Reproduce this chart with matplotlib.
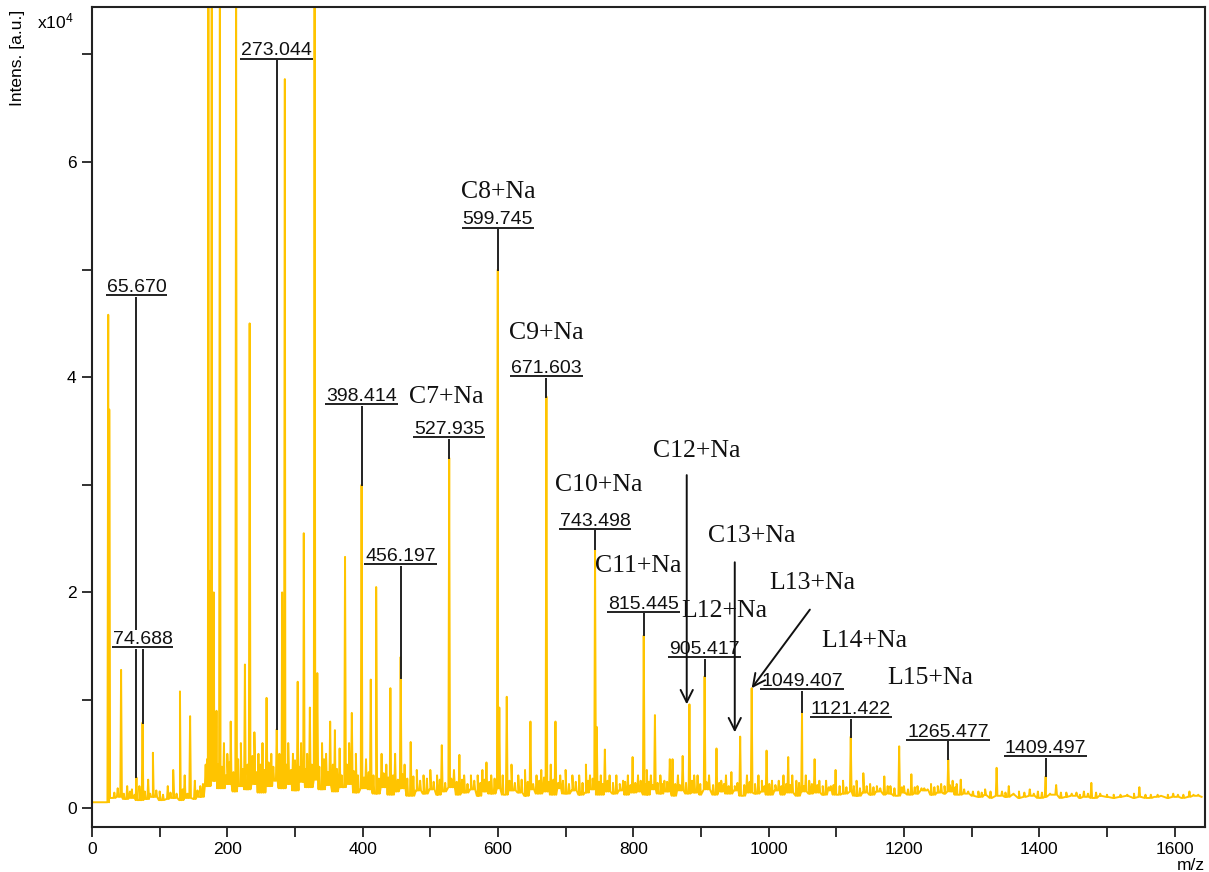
import numpy as np
import matplotlib
matplotlib.use("Agg")
import matplotlib.pyplot as plt
from matplotlib.ticker import MultipleLocator

plt.rcParams['font.family'] = ['Liberation Sans', 'DejaVu Sans']
plt.rcParams['mathtext.default'] = 'regular'

# ---------------- data (intensity in units of 1e4 a.u.) ----------------
baseline_mz = np.arange(0, 1650, 10)
baseline_int = [
    0.05, 0.05, 0.05,
    0.09, 0.10, 0.08, 0.09, 0.07, 0.08, 0.10, 0.07, 0.08, 0.09, 0.07, 0.09, 0.08, 0.10,
    0.20, 0.25, 0.18, 0.22, 0.15, 0.20, 0.17, 0.22, 0.14, 0.20, 0.25, 0.18, 0.22, 0.16,
    0.24, 0.19, 0.26, 0.17, 0.21, 0.15, 0.19, 0.22, 0.14, 0.18,
    0.17, 0.13, 0.19, 0.12, 0.15, 0.18, 0.11, 0.16, 0.13, 0.17, 0.12, 0.15, 0.19, 0.12,
    0.14, 0.17, 0.11, 0.15, 0.13, 0.18, 0.12, 0.16, 0.14, 0.11, 0.17, 0.13, 0.15, 0.12,
    0.18, 0.13, 0.16, 0.12, 0.14, 0.17, 0.12, 0.15, 0.13, 0.16, 0.12, 0.14,
    0.15, 0.12, 0.17, 0.13, 0.15, 0.11, 0.16, 0.13, 0.14, 0.12, 0.17, 0.12, 0.15, 0.13,
    0.16, 0.11, 0.14, 0.13, 0.15, 0.12, 0.16, 0.12, 0.14, 0.11, 0.15, 0.13, 0.14, 0.12,
    0.16, 0.12, 0.13, 0.15, 0.11, 0.14, 0.12, 0.15, 0.12, 0.13, 0.11, 0.14, 0.12, 0.13,
    0.16, 0.12, 0.14, 0.13, 0.15, 0.12, 0.13, 0.11,
    0.10, 0.12, 0.09, 0.11, 0.10, 0.12, 0.09, 0.10, 0.11, 0.09, 0.10, 0.12, 0.09, 0.10,
    0.11, 0.09, 0.10, 0.09, 0.11, 0.10, 0.09, 0.10, 0.11, 0.09, 0.10, 0.09, 0.10, 0.11,
    0.09, 0.10, 0.09, 0.10, 0.11, 0.10,
]

peak_mz = [
    24, 25.5, 43, 52, 59, 65.670, 70, 74.688, 83, 90, 100, 112, 120, 130, 137, 145,
    152, 160, 168, 172, 174, 177, 180, 184, 189, 195, 200, 205, 213, 220, 226, 233,
    240, 246, 252, 258, 265, 273.044, 277, 281, 285, 290, 297, 304, 309, 313, 318,
    322, 329, 333, 340, 346, 352, 359, 366, 374, 380, 384, 390, 398.414, 405, 412,
    420, 428, 435, 441, 448, 456.197, 462, 471, 480, 490, 500, 510, 517, 527.935,
    535, 543, 550, 560, 570, 577, 583, 590, 599.745, 602, 613, 620, 630, 640, 648,
    657, 664, 671.603, 678, 685, 692, 700, 710, 720, 730, 736, 743.498, 746, 752,
    758, 765, 775, 785, 792, 799, 807, 815.445, 820, 826, 832, 840, 846, 854, 858,
    866, 873, 883, 890, 895, 905.417, 912, 923, 930, 937, 945, 950, 958, 968, 975,
    985, 990, 997, 1005, 1015, 1022, 1029, 1035, 1041, 1049.407, 1055, 1060, 1068,
    1075, 1085, 1092, 1099, 1110, 1121.422, 1130, 1140, 1150, 1160, 1171, 1180,
    1193, 1200, 1211, 1220, 1230, 1240, 1250, 1255, 1265.477, 1272, 1278, 1284,
    1295, 1310, 1320, 1337, 1345, 1355, 1370, 1386, 1398, 1409.497, 1425, 1440,
    1455, 1466, 1477, 1490, 1510, 1530, 1548, 1565, 1590, 1605, 1622, 1635,
]
peak_int = [
    4.58, 3.70, 1.28, 0.20, 0.17, 0.28, 0.20, 0.79, 0.26, 0.51, 0.15, 0.20, 0.35, 1.08, 0.30, 0.85,
    0.25, 0.20, 0.40, 7.60, 2.20, 7.60, 2.00, 0.90, 7.60, 0.60, 0.50, 0.80, 7.60, 0.60, 1.33, 4.50,
    0.70, 0.50, 0.60, 1.02, 0.50, 0.73, 0.50, 2.00, 6.77, 0.60, 0.50, 1.17, 0.60, 2.55, 0.50,
    0.93, 7.60, 1.25, 0.60, 0.50, 0.80, 0.72, 0.55, 2.33, 0.60, 0.88, 0.50, 3.00, 0.45, 1.19,
    2.05, 0.50, 0.40, 1.11, 0.50, 1.40, 0.40, 0.61, 0.35, 0.30, 0.35, 0.30, 0.58, 3.25,
    0.35, 0.49, 0.30, 0.30, 0.30, 0.35, 0.42, 0.30, 5.00, 0.93, 1.03, 0.40, 0.30, 0.35, 0.80,
    0.30, 0.35, 3.82, 0.40, 0.80, 0.30, 0.35, 0.30, 0.30, 0.40, 0.30, 2.40, 0.75, 0.30,
    0.54, 0.30, 0.30, 0.25, 0.30, 0.47, 0.30, 1.60, 0.35, 0.30, 0.86, 0.30, 0.25, 0.45, 0.45,
    0.30, 0.48, 0.96, 0.30, 0.30, 1.22, 0.30, 0.55, 0.25, 0.30, 0.33, 0.20, 0.66, 0.30, 1.11,
    0.30, 0.25, 0.53, 0.25, 0.25, 0.30, 0.47, 0.30, 0.25, 0.89, 0.30, 0.25, 0.45,
    0.25, 0.25, 0.20, 0.35, 0.25, 0.66, 0.25, 0.32, 0.22, 0.20, 0.29, 0.20,
    0.57, 0.20, 0.31, 0.20, 0.18, 0.22, 0.20, 0.22, 0.45, 0.25, 0.22, 0.26,
    0.15, 0.15, 0.17, 0.37, 0.15, 0.20, 0.15, 0.17, 0.15, 0.29, 0.21, 0.14,
    0.14, 0.15, 0.23, 0.13, 0.12, 0.12, 0.19, 0.12, 0.12, 0.12, 0.15, 0.12,
]

# small "grass" peaks between the main ones
minor_mz = [
    33, 38, 47, 56, 63, 78, 86, 95, 105, 116, 125, 134, 141, 156, 164,
    170, 176, 182, 186, 192, 198, 203, 209, 216, 223, 230, 237, 243, 249, 255, 261,
    268, 279, 287, 294, 300, 306, 311, 316, 325, 336, 343, 349, 356, 362, 369, 377,
    387, 393, 402, 409, 416, 424, 431, 438, 445, 452, 459, 466, 475, 485, 495, 505,
    514, 522, 531, 539, 547, 555, 565, 574, 580, 587, 595, 607, 617, 625, 635, 644,
    652, 661, 668, 675, 682, 689, 696, 705, 715, 725, 733, 740, 749, 755, 762, 770,
    780, 788, 796, 803, 811, 818, 823, 829, 836, 843, 850, 862, 869, 878, 887, 899,
    908, 918, 927, 934, 941, 954, 964, 972, 980, 994, 1001, 1010, 1019, 1026, 1032,
    1045, 1052, 1064, 1072, 1080, 1089, 1096, 1105, 1115, 1126, 1135, 1145, 1155,
    1165, 1176, 1186, 1197, 1206, 1216, 1226, 1235, 1245, 1260, 1268, 1276, 1289,
    1302, 1315, 1328, 1350, 1362, 1378, 1392, 1404, 1416, 1432, 1448, 1460, 1472,
    1484, 1500, 1520, 1540, 1557, 1575, 1598, 1613, 1628,
]
minor_int = [
    0.14, 0.18, 0.13, 0.15, 0.12, 0.15, 0.13, 0.16, 0.12, 0.14, 0.13, 0.17, 0.13, 0.16, 0.22,
    0.45, 0.35, 0.50, 0.40, 0.38, 0.30, 0.42, 0.33, 0.45, 0.36, 0.40, 0.48, 0.33, 0.40, 0.35, 0.42,
    0.38, 0.45, 0.40, 0.35, 0.44, 0.38, 0.42, 0.36, 0.40, 0.38, 0.45, 0.33, 0.40, 0.36, 0.30, 0.40,
    0.34, 0.30, 0.28, 0.33, 0.30, 0.27, 0.32, 0.28, 0.30, 0.26, 0.31, 0.27, 0.29, 0.25, 0.27, 0.24,
    0.26, 0.23, 0.27, 0.24, 0.26, 0.22, 0.25, 0.23, 0.26, 0.24, 0.27, 0.30, 0.25, 0.23, 0.26, 0.24,
    0.22, 0.25, 0.28, 0.24, 0.26, 0.23, 0.25, 0.22, 0.24, 0.23, 0.25, 0.27, 0.24, 0.22, 0.25, 0.23,
    0.22, 0.24, 0.21, 0.23, 0.25, 0.22, 0.24, 0.21, 0.23, 0.22, 0.24, 0.22, 0.21, 0.23, 0.25, 0.22,
    0.24, 0.21, 0.23, 0.22, 0.20, 0.23, 0.21, 0.24, 0.22, 0.20, 0.22, 0.21, 0.20, 0.22, 0.21,
    0.23, 0.20, 0.22, 0.21, 0.20, 0.19, 0.21, 0.20, 0.19, 0.20, 0.18, 0.20, 0.19,
    0.18, 0.20, 0.18, 0.19, 0.17, 0.19, 0.18, 0.17, 0.19, 0.20, 0.21, 0.19, 0.17,
    0.15, 0.14, 0.15, 0.14, 0.13, 0.14, 0.13, 0.14, 0.13, 0.14, 0.13, 0.12, 0.13,
    0.14, 0.12, 0.12, 0.13, 0.12, 0.12, 0.13, 0.12, 0.12,
]

# labelled peaks: m/z text and stem end (peak top)
label_mz = [65.670, 74.688, 273.044, 398.414, 456.197, 527.935, 599.745, 671.603,
            743.498, 815.445, 905.417, 1049.407, 1121.422, 1265.477, 1409.497]
label_top = [0.28, 0.79, 0.73, 3.00, 1.20, 3.25, 5.00, 3.82,
             2.40, 1.60, 1.22, 0.89, 0.66, 0.45, 0.29]

# assignment annotations
assign_text = ["C7+Na", "C8+Na", "C9+Na", "C10+Na", "C11+Na", "C12+Na",
               "L12+Na", "C13+Na", "L13+Na", "L14+Na", "L15+Na"]

# ---------------- layout (positions, not data) ----------------
label_bar_y = [4.76, 1.49, 6.96, 3.75, 2.26, 3.44, 5.39, 4.01,
               2.59, 1.82, 1.40, 1.10, 0.84, 0.63, 0.48]
assign_pos = [(468, 3.82), (545, 5.72), (617, 4.41), (685, 3.00), (743, 2.25),
              (829, 3.31), (871, 1.83), (910, 2.52), (1001, 2.09), (1078, 1.55),
              (1176, 1.20)]
arrows = [((879, 3.09), (879, 0.96)),
          ((950, 2.28), (950, 0.70)),
          ((1061, 1.84), (975, 1.11))]

# ---------------- build spectrum trace ----------------
bm = np.asarray(baseline_mz, dtype=float)
bi = np.asarray(baseline_int, dtype=float)
xs = list(bm)
ys = list(bi)
for m, h in list(zip(peak_mz, peak_int)) + list(zip(minor_mz, minor_int)):
    b = bi[np.abs(bm - m).argmin()]
    xs += [m - 1.2, m, m + 1.2]
    ys += [b, h, b]
order = np.argsort(xs, kind="stable")
xs = np.asarray(xs)[order]
ys = np.asarray(ys)[order]

# ---------------- figure ----------------
fig = plt.figure(figsize=(12.09, 8.72), dpi=100)
ax = fig.add_axes([92 / 1209, 45 / 872, (1205 - 92) / 1209, (865 - 45) / 872])
ax.plot(xs, ys, color="#FFC400", lw=1.4, zorder=2)

ax.set_xlim(0, 1645)
ax.set_ylim(-0.18, 7.44)
ax.xaxis.set_major_locator(MultipleLocator(200))
ax.xaxis.set_minor_locator(MultipleLocator(100))
ax.yaxis.set_major_locator(MultipleLocator(2))
ax.yaxis.set_minor_locator(MultipleLocator(1))
ax.tick_params(which="both", direction="out", length=7, width=1.3, labelsize=12.5,
               pad=4, color="#222222")
for s in ax.spines.values():
    s.set_linewidth(1.5)
    s.set_color("#222222")

# peak labels
texts = []
for m, by in zip(label_mz, label_bar_y):
    t = ax.text(m, by + 0.03, f"{m:.3f}", ha="center", va="baseline",
                fontsize=14, color="#111111", zorder=4,
                bbox=dict(facecolor="white", edgecolor="none", pad=0.5))
    texts.append(t)

fig.canvas.draw()
inv = ax.transData.inverted()
for t, m, by, top in zip(texts, label_mz, label_bar_y, label_top):
    bb = t.get_window_extent()
    x0 = inv.transform((bb.x0 - 1, 0))[0]
    x1 = inv.transform((bb.x1 + 1, 0))[0]
    ax.plot([x0, x1], [by, by], color="#222222", lw=1.4, zorder=5, solid_capstyle="butt")
    ax.plot([m, m], [by, top], color="#222222", lw=1.4, zorder=3)

# assignment texts
for txt, (x, y) in zip(assign_text, assign_pos):
    ax.text(x, y, txt, ha="left", va="center", fontsize=18.5,
            family=["Liberation Serif", "DejaVu Serif"], color="#111111", zorder=6)

for (x0, y0), (x1, y1) in arrows:
    ax.annotate("", xy=(x1, y1), xytext=(x0, y0),
                arrowprops=dict(arrowstyle="->", color="#111111", lw=1.4,
                                mutation_scale=22, shrinkA=0, shrinkB=0),
                zorder=7)

# axis titles
fig.text(18 / 1209, 1 - 10 / 872, "Intens. [a.u.]", rotation=90, ha="center", va="top",
         fontsize=12.5)
fig.text(37 / 1209, 1 - 21 / 872, r"x10$^{4}$", ha="left", va="center", fontsize=12.5)
fig.text(1205 / 1209, 1 - 865 / 872, "m/z", ha="right", va="center", fontsize=12.5)

fig.savefig("out.png", dpi=100)
